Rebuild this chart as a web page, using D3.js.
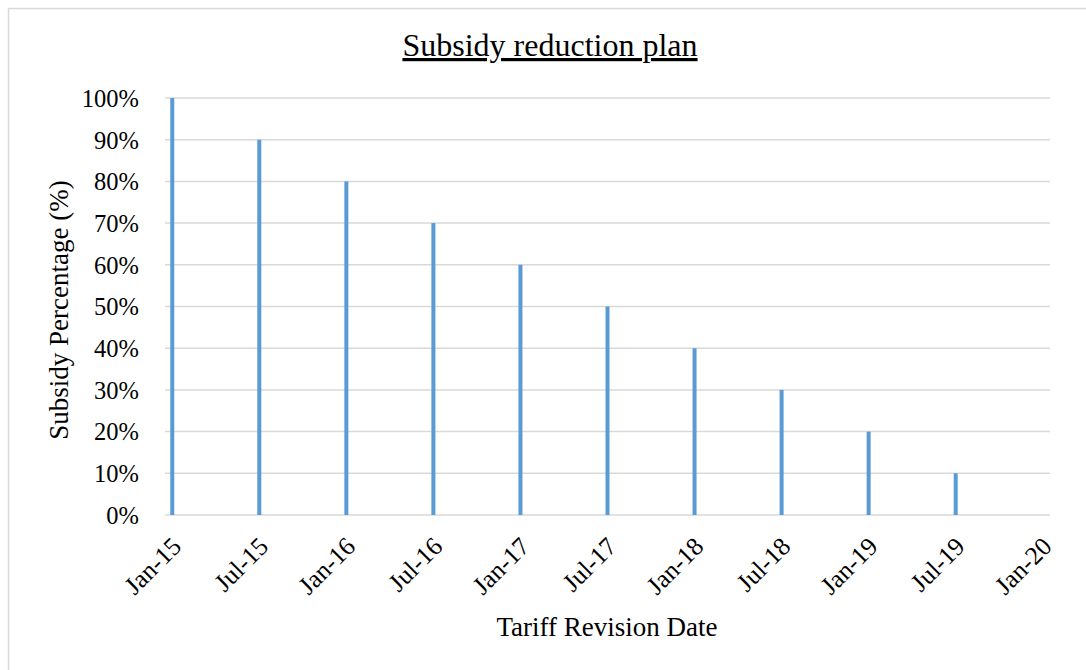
<!DOCTYPE html>
<html>
<head>
<meta charset="utf-8">
<script src="https://cdn.jsdelivr.net/npm/d3@7"></script>
<style>
  html, body { margin: 0; padding: 0; background: #fff; }
  svg { display: block; }
</style>
</head>
<body>
<svg id="chart" width="1086" height="670"></svg>
<script>
// Tariff revision dates and the subsidy share remaining at each revision
const revisionDates = ["2015-01-01", "2015-07-01", "2016-01-01", "2016-07-01", "2017-01-01",
                       "2017-07-01", "2018-01-01", "2018-07-01", "2019-01-01", "2019-07-01"];
const subsidyShare = [1.00, 0.90, 0.80, 0.70, 0.60, 0.50, 0.40, 0.30, 0.20, 0.10];

// Axis ticks
const xTickDates = ["2015-01-01", "2015-07-01", "2016-01-01", "2016-07-01", "2017-01-01", "2017-07-01",
                    "2018-01-01", "2018-07-01", "2019-01-01", "2019-07-01", "2020-01-01"];
const yTickValues = [0, 0.1, 0.2, 0.3, 0.4, 0.5, 0.6, 0.7, 0.8, 0.9, 1.0];

const SERIF = "'Liberation Serif', 'Times New Roman', serif";
const parse = d3.timeParse("%Y-%m-%d");
const fmtDate = d3.timeFormat("%b-%y");
const fmtPct = d3.format(".0%");

const svg = d3.select("#chart");

// Outer chart frame
svg.append("rect")
  .attr("x", 8.5).attr("y", 8.5)
  .attr("width", 1100).attr("height", 700)
  .attr("fill", "none").attr("stroke", "#d9d9d9").attr("stroke-width", 1.5);

const plot = { left: 165, right: 1050, top: 98, bottom: 515 };

// Month-based date axis: one slot per month, half a slot of padding at each end
const startMonth = parse(xTickDates[0]);
const endMonth = parse(xTickDates[xTickDates.length - 1]);
const monthIndex = d => d3.timeMonth.count(startMonth, d);
const nMonths = monthIndex(endMonth);

const x = d3.scaleLinear()
  .domain([-0.5, nMonths + 0.5])
  .range([plot.left, plot.right]);

const y = d3.scaleLinear()
  .domain([0, 1])
  .range([plot.bottom, plot.top]);

// Horizontal gridlines
svg.append("g")
  .selectAll("line")
  .data(yTickValues)
  .join("line")
  .attr("x1", plot.left).attr("x2", plot.right)
  .attr("y1", d => y(d)).attr("y2", d => y(d))
  .attr("stroke", "#d9d9d9").attr("stroke-width", 1.5);

// Y axis labels
const yAxis = d3.axisLeft(y).tickValues(yTickValues).tickFormat(fmtPct).tickSize(0).tickPadding(0);
const gy = svg.append("g").attr("transform", `translate(139,0)`).call(yAxis);
gy.attr("font-family", SERIF).attr("font-size", 24.5);
gy.select(".domain").remove();
gy.selectAll("text")
  .attr("fill", "#000")
  .attr("dy", "0.34em")
  .attr("x", 0);

// Bars
const barData = revisionDates.map((d, i) => ({ date: parse(d), value: subsidyShare[i] }));
svg.append("g")
  .selectAll("rect")
  .data(barData)
  .join("rect")
  .attr("x", d => x(monthIndex(d.date)) - 2)
  .attr("width", 4)
  .attr("y", d => y(d.value))
  .attr("height", d => y(0) - y(d.value))
  .attr("fill", "#5b9bd5");

// X axis labels, rotated
const xTicks = xTickDates.map(parse);
const xAxis = d3.axisBottom(x)
  .tickValues(xTicks.map(monthIndex))
  .tickFormat((d, i) => fmtDate(xTicks[i]))
  .tickSize(0);
const gx = svg.append("g").attr("transform", `translate(0,${plot.bottom})`).call(xAxis);
gx.attr("font-family", SERIF).attr("font-size", 25.5);
gx.select(".domain").remove();
gx.selectAll("text")
  .attr("fill", "#000")
  .attr("text-anchor", "end")
  .attr("y", 0).attr("dy", 0)
  .attr("transform", "translate(10,33) rotate(-45)");

// Title
svg.append("text")
  .attr("x", 550).attr("y", 56)
  .attr("text-anchor", "middle")
  .attr("font-family", SERIF)
  .attr("font-size", 32)
  .attr("fill", "#000")
  .attr("text-decoration", "underline")
  .text("Subsidy reduction plan");

// Axis titles
svg.append("text")
  .attr("x", 607).attr("y", 636)
  .attr("text-anchor", "middle")
  .attr("font-family", SERIF)
  .attr("font-size", 27)
  .attr("fill", "#000")
  .text("Tariff Revision Date");

svg.append("text")
  .attr("transform", "translate(68,310) rotate(-90)")
  .attr("text-anchor", "middle")
  .attr("font-family", SERIF)
  .attr("font-size", 27)
  .attr("fill", "#000")
  .text("Subsidy Percentage (%)");
</script>
</body>
</html>
